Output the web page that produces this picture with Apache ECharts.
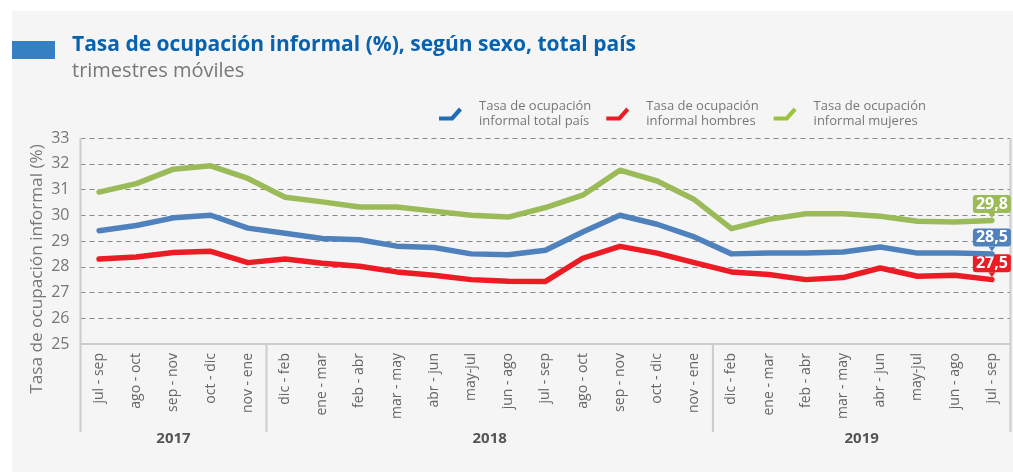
<!DOCTYPE html>
<html>
<head>
<meta charset="utf-8">
<script src="https://cdn.jsdelivr.net/npm/echarts@6/dist/echarts.min.js"></script>
<style>
html,body{margin:0;padding:0;background:#ffffff;}
#chart{width:1013px;height:472px;}
</style>
</head>
<body>
<div id="chart"></div>
<script>
const categories = ['jul - sep','ago - oct','sep - nov','oct - dic','nov - ene',
  'dic - feb','ene - mar','feb - abr','mar - may','abr - jun','may-jul','jun - ago','jul - sep','ago - oct','sep - nov','oct - dic','nov - ene',
  'dic - feb','ene - mar','feb - abr','mar - may','abr - jun','may-jul','jun - ago','jul - sep'];
const years = ['2017','2018','2019'];
const yearCounts = [5, 12, 8];
const seriesNames = ['Tasa de ocupación\ninformal total país','Tasa de ocupación\ninformal hombres','Tasa de ocupación\ninformal mujeres'];
const totalPais = [29.4,29.6,29.9,30.0,29.5, 29.3,29.1,29.05,28.8,28.75,28.5,28.47,28.64,29.35,30.0,29.65,29.16, 28.5,28.53,28.53,28.57,28.77,28.53,28.53,28.5];
const hombres   = [28.3,28.38,28.55,28.6,28.16, 28.3,28.14,28.02,27.8,27.67,27.5,27.44,27.43,28.33,28.79,28.53,28.16, 27.8,27.7,27.5,27.58,27.95,27.63,27.67,27.5];
const mujeres   = [30.9,31.23,31.79,31.92,31.43, 30.7,30.52,30.32,30.32,30.16,30.0,29.93,30.3,30.78,31.75,31.33,30.61, 29.48,29.84,30.06,30.06,29.96,29.77,29.74,29.8];
const yTicks = {min:25, max:33, interval:1};

const lineColors = ['#4f81bd','#ed1c24','#9bbb59'];
const legendColors = ['#1f6dba','#ed1c24','#9bc43c'];
const valuesList = [totalPais, hombres, mujeres];
const last = categories.length - 1;
const fmt = v => v.toFixed(1).replace('.', ',');

const chart = echarts.init(document.getElementById('chart'), null, {renderer:'canvas'});
const FONT = "'Open Sans', sans-serif";

const series = valuesList.map((vals, k) => ({
  name: seriesNames[k],
  type: 'line',
  symbol: 'none',
  z: 3 + (2 - k),
  lineStyle: {width: 5.5, color: lineColors[k], cap: 'round', join: 'round'},
  itemStyle: {color: lineColors[k]},
  data: vals,
  markPoint: {
    silent: true,
    symbol: 'triangle', symbolRotate: 180, symbolSize: [7, 5], symbolOffset: [0, -5],
    itemStyle: {color: lineColors[k]},
    label: {
      show: true, position: 'top', distance: 0,
      formatter: p => fmt(p.value),
      color: '#fff', fontFamily: FONT, fontWeight: 'bold', fontSize: 16,
      backgroundColor: lineColors[k], padding: [1, 3, 0, 3], borderRadius: 3,
      lineHeight: 17
    },
    data: [{coord: [last, vals[last]], value: vals[last]}]
  }
}));

const option = {
  backgroundColor: 'transparent',
  animation: false,
  grid: {left: 80.5, right: 2.5, top: 138, bottom: 128, containLabel: false},
  legend: {
    left: 434, top: 94,
    itemWidth: 23, itemHeight: 13, itemGap: 15,
    icon: 'path://M0,9 L12,9 L20,0 L23,3 L14,13 L0,13 Z',
    textStyle: {color: '#777', fontFamily: FONT, fontSize: 13, lineHeight: 15, padding: [0, 0, 0, 12]},
    data: seriesNames.map((n, k) => ({name: n, itemStyle: {color: legendColors[k]}}))
  },
  xAxis: {
    type: 'category', data: categories, boundaryGap: true,
    axisLine: {show: true, lineStyle: {color: '#cccccc', width: 2}},
    axisTick: {show: false},
    axisLabel: {rotate: 90, interval: 0, color: '#666', fontFamily: FONT, fontSize: 14, margin: 9}
  },
  yAxis: {
    type: 'value', min: yTicks.min, max: yTicks.max, interval: yTicks.interval,
    axisLine: {show: false},
    axisTick: {show: false},
    axisLabel: {color: '#777', fontFamily: FONT, fontSize: 16, margin: 11},
    splitLine: {show: true, lineStyle: {color: '#888', type: [5, 4], width: 1}}
  },
  series: series
};
chart.setOption(option);

function decorate() {
  const g = [];
  g.push({type: 'rect', z: -10, silent: true, shape: {x: 12, y: 11, width: 1013 - 12, height: 472 - 11}, style: {fill: '#f5f5f5'}});
  g.push({type: 'rect', z: 10, shape: {x: 12, y: 41, width: 43, height: 18}, style: {fill: '#3580c3'}});
  g.push({type: 'text', z: 10, x: 72, y: 35, style: {text: 'Tasa de ocupación informal (%), según sexo, total país', fill: '#0a62ad', font: "bold 21px 'Open Sans', sans-serif"}});
  g.push({type: 'text', z: 10, x: 72, y: 61, style: {text: 'trimestres móviles', fill: '#777', font: "20px 'Open Sans', sans-serif"}});
  g.push({type: 'text', z: 10, x: 37, y: 269, rotation: Math.PI / 2,
    style: {text: 'Tasa de ocupación informal (%)', fill: '#777', font: "17.2px 'Open Sans', sans-serif", align: 'center', verticalAlign: 'middle'}});

  const yTop = chart.convertToPixel({yAxisIndex: 0}, yTicks.max);
  const yBot = chart.convertToPixel({yAxisIndex: 0}, yTicks.min);
  const x0 = chart.convertToPixel({xAxisIndex: 0}, 0);
  const x1 = chart.convertToPixel({xAxisIndex: 0}, 1);
  const band = x1 - x0;
  const edge = i => x0 - band / 2 + i * band;
  const sepBottom = yBot + 88;
  g.push({type: 'line', z: 5, shape: {x1: edge(0), y1: yTop, x2: edge(0), y2: sepBottom}, style: {stroke: '#cccccc', lineWidth: 2}});
  g.push({type: 'line', z: 5, shape: {x1: edge(categories.length), y1: yTop, x2: edge(categories.length), y2: sepBottom}, style: {stroke: '#cccccc', lineWidth: 2}});
  let start = 0;
  years.forEach((yr, j) => {
    const end = start + yearCounts[j];
    if (j > 0) {
      g.push({type: 'line', z: 5, shape: {x1: edge(start), y1: yBot, x2: edge(start), y2: sepBottom}, style: {stroke: '#cccccc', lineWidth: 2}});
    }
    g.push({type: 'text', z: 10, x: (edge(start) + edge(end)) / 2, y: sepBottom + 7,
      style: {text: yr, fill: '#555', font: "bold 15px 'Open Sans', sans-serif", align: 'center', verticalAlign: 'middle'}});
    start = end;
  });
  chart.setOption({graphic: g});
}
decorate();
</script>
</body>
</html>
